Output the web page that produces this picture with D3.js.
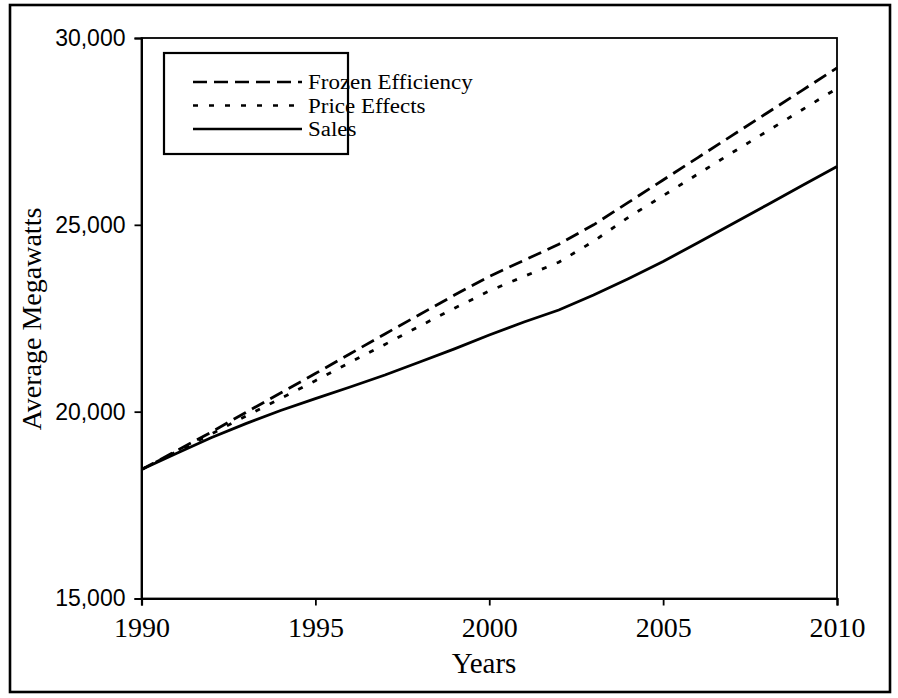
<!DOCTYPE html>
<html>
<head>
<meta charset="utf-8">
<script src="https://cdn.jsdelivr.net/npm/d3@7"></script>
<style>
  html, body { margin: 0; padding: 0; background: #fff; }
  svg { display: block; }
</style>
</head>
<body>
<svg id="chart" width="898" height="698"></svg>
<script>
const years = [1990,1991,1992,1993,1994,1995,1996,1997,1998,1999,2000,2001,2002,2003,2004,2005,2006,2007,2008,2009,2010];
const frozenEfficiency = [18450,18950,19450,19980,20500,21020,21550,22080,22600,23120,23620,24050,24480,25000,25600,26200,26800,27400,28000,28600,29200];
const priceEffects = [18450,18930,19400,19880,20350,20830,21320,21800,22290,22770,23230,23620,24000,24560,25200,25780,26360,26940,27510,28080,28650];
const sales = [18450,18880,19300,19680,20030,20350,20660,20980,21330,21680,22050,22400,22720,23120,23560,24020,24520,25030,25540,26050,26560];
const xTicks = [1990,1995,2000,2005,2010];
const yTicks = [15000,20000,25000,30000];
const seriesNames = ["Frozen Efficiency","Price Effects","Sales"];
const seriesValues = [frozenEfficiency, priceEffects, sales];
const dashes = ["14,7", "5,11", null];

(function () {
const svg = d3.select("#chart");
const serif = "'Liberation Serif','Times New Roman',serif";
const sans = "'Liberation Sans',Arial,sans-serif";

// outer frame
svg.append("rect").attr("x", 10).attr("y", 5).attr("width", 880).attr("height", 687)
  .attr("fill", "none").attr("stroke", "#000").attr("stroke-width", 2.6);

const pL = 141.5, pR = 837, pT = 38, pB = 598.5;
const x = d3.scaleLinear().domain([1990, 2010]).range([pL, pR]);
const y = d3.scaleLinear().domain([15000, 30000]).range([pB, pT]);

// plot box
svg.append("rect").attr("x", pL).attr("y", pT).attr("width", pR - pL).attr("height", pB - pT)
  .attr("fill", "none").attr("stroke", "#000").attr("stroke-width", 1.8);

const xAxis = svg.append("g").attr("transform", `translate(0,${pB})`)
  .call(d3.axisBottom(x).tickValues(xTicks).tickFormat(d3.format("d")).tickSize(7).tickPadding(12));
xAxis.select(".domain").attr("stroke-width", 2.2);
xAxis.selectAll(".tick line").attr("stroke-width", 1.8);
xAxis.selectAll("text").attr("font-family", serif).attr("font-size", 28).attr("fill", "#000");

const yAxis = svg.append("g").attr("transform", `translate(${pL},0)`)
  .call(d3.axisLeft(y).tickValues(yTicks).tickFormat(d3.format(",")).tickSize(7).tickPadding(9));
yAxis.select(".domain").attr("stroke-width", 2);
yAxis.selectAll(".tick line").attr("stroke-width", 1.8);
yAxis.selectAll("text").attr("font-family", sans).attr("font-size", 23).attr("fill", "#000");

// axis titles
svg.append("text").attr("x", 484).attr("y", 673).attr("text-anchor", "middle")
  .attr("font-family", serif).attr("font-size", 29).text("Years");
svg.append("text").attr("transform", "translate(41,319) rotate(-90)").attr("text-anchor", "middle")
  .attr("font-family", serif).attr("font-size", 28).text("Average Megawatts");

// lines
const line = d3.line().x((d, i) => x(years[i])).y(d => y(d));
seriesValues.forEach((vals, k) => {
  const p = svg.append("path").datum(vals).attr("d", line)
    .attr("fill", "none").attr("stroke", "#000").attr("stroke-width", 2.8);
  if (dashes[k]) p.attr("stroke-dasharray", dashes[k]);
});

// legend
const lg = svg.append("g");
lg.append("rect").attr("x", 164).attr("y", 53).attr("width", 184).attr("height", 101)
  .attr("fill", "#fff").attr("stroke", "#000").attr("stroke-width", 2.2);
const legendFont = 20.5;
seriesNames.forEach((name, k) => {
  const ly = 82 + k * 23.5;
  const l = lg.append("line").attr("x1", 193).attr("x2", 302).attr("y1", ly).attr("y2", ly)
    .attr("stroke", "#000").attr("stroke-width", 2.6);
  if (dashes[k]) l.attr("stroke-dasharray", dashes[k]);
  const t = lg.append("text").attr("x", 308).attr("y", ly + 7).attr("font-family", serif)
    .attr("font-size", legendFont).text(name);
  const w = t.node().getComputedTextLength();
  t.attr("textLength", w * 1.12).attr("lengthAdjust", "spacingAndGlyphs");
});
})();
</script>
</body>
</html>
